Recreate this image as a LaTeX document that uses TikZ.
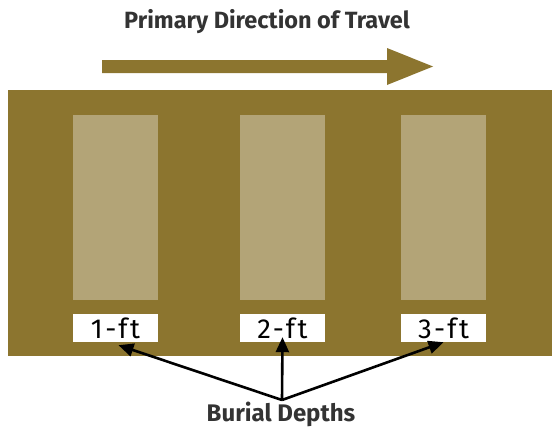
\documentclass[tikz,border=0pt]{standalone}
\usepackage{fontspec}
\setmainfont{Fira Sans}
\newfontfamily\labelfont[LetterSpace=9]{Fira Sans}
\usetikzlibrary{arrows.meta}
\definecolor{soil}{HTML}{8C752F}
\definecolor{plot}{HTML}{B3A477}
\definecolor{ink}{HTML}{333333}
\tikzset{
  plotarea/.style={fill=plot},
  depthlabel/.style={fill=white, minimum width=85pt, minimum height=28pt, inner sep=0pt,
    font=\labelfont\fontsize{27.5}{28}\selectfont, text=black},
  pointer/.style={line width=2.6pt, draw=black, -{Triangle[length=15pt,width=13pt]}},
  heading/.style={font=\bfseries\fontsize{23.5}{26}\selectfont, text=ink}
}
\begin{document}
\begin{tikzpicture}[x=1pt,y=-1pt]
\useasboundingbox (0,0) rectangle (552,431);
% title and travel arrow
\node[heading] (title) at (267,22) {Primary Direction of Travel};
\fill[soil] (102,60) -- (387,60) -- (387,48) -- (433,66.5) -- (387,85) -- (387,73) -- (102,73) -- cycle;
% ground strip with the three test plots
\fill[soil] (8,90) rectangle (552,356);
\fill[plotarea] (73,115) rectangle (158,300);
\fill[plotarea] (240,115) rectangle (325,300);
\fill[plotarea] (401,115) rectangle (486,300);
% depth labels
\node[depthlabel] (d1) at (115.5,328) {1-ft};
\node[depthlabel] (d2) at (282.5,328) {2-ft};
\node[depthlabel] (d3) at (443.5,328) {3-ft};
% pointers
\coordinate (src) at (282,400);
\node[heading, font=\bfseries\fontsize{24}{26}\selectfont, anchor=south] (burial) at (281,430) {Burial Depths};
\draw[pointer] (src) -- ([xshift=3pt,yshift=-3pt]d1.south);
\draw[pointer] (src) -- ([yshift=5pt]d2.south);
\draw[pointer] (src) -- (d3.south);
\end{tikzpicture}
\end{document}
